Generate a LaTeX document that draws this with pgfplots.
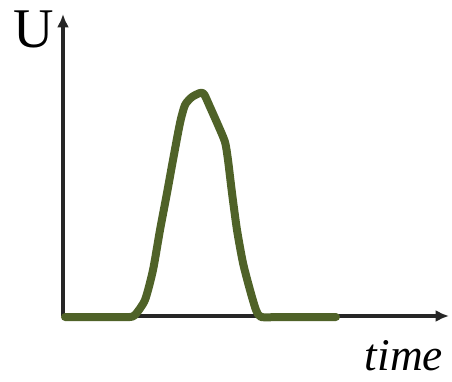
\documentclass[border=0pt]{standalone}
\usepackage{pgfplots}
\pgfplotsset{compat=1.18}
\usetikzlibrary{arrows.meta}
\usepackage{fontspec}
\setmainfont{Liberation Serif}
\definecolor{curvegreen}{RGB}{79,98,40}
\definecolor{axisgray}{RGB}{38,38,38}
\begin{document}
\begin{tikzpicture}
  % canvas in reference pixels (1px = 0.75pt)
  \useasboundingbox (0,0) rectangle (339pt,285.75pt);
  \begin{axis}[
      at={(47.25pt,48.75pt)}, anchor=south west,
      scale only axis,
      width=288.75pt, height=225.75pt,
      xmin=63, xmax=448, ymin=0, ymax=301,
      axis lines=none,
      ticks=none,
      clip=false,
    ]
    % axis lines with arrow heads
    \draw[axisgray, line width=2.4pt, -{Latex[length=10pt,width=9pt]}]
      (axis cs:63,0) -- (axis cs:449,0);
    \draw[axisgray, line width=2.4pt, -{Latex[length=10pt,width=9pt]}]
      (axis cs:63,0) -- (axis cs:63,302);
    \addplot[curvegreen, line width=6pt, smooth, tension=0.4, line join=round, line cap=round]
      coordinates {
        (65,-1) (100,-1) (122,-1) (130,-1) (135,1) (145,16) (153,46)
        (160,86) (167,123) (173,156) (180,193) (185,211) (192,219)
        (200,223) (204,222) (210,209) (218,191) (225,174) (228,156)
        (232,123) (237,86) (243,53) (250,26) (256,6) (261,-1)
        (280,-1) (310,-1) (336,-1)
      };
    \node[font=\fontsize{42}{42}\selectfont] at (axis cs:34,287) {U};
    \node[font=\fontsize{34}{34}\selectfont\itshape] at (axis cs:404,-40) {time};
  \end{axis}
\end{tikzpicture}
\end{document}
